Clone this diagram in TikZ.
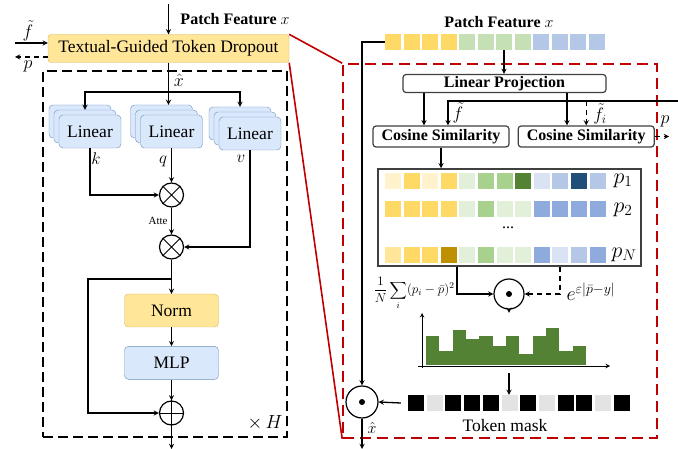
\RequirePackage{fix-cm}
\documentclass[tikz,border=0pt]{standalone}
\usepackage{fontspec}
\setmainfont{Liberation Serif}
\usepackage{amsmath}
\usetikzlibrary{arrows,shapes,positioning,calc}
\definecolor{orangefill}{HTML}{FFE699}
\definecolor{orangeline}{HTML}{D6B656}
\definecolor{bluefill}{HTML}{DAE8FC}
\definecolor{blueline}{HTML}{6C8EBF}
\definecolor{redline}{HTML}{C00000}
\definecolor{boxgray}{HTML}{404040}
\definecolor{ylA}{HTML}{FFF2CC}
\definecolor{ylB}{HTML}{FFD966}
\definecolor{ylC}{HTML}{FFE699}
\definecolor{ylD}{HTML}{BF9000}
\definecolor{grA}{HTML}{E2F0D9}
\definecolor{grB}{HTML}{A9D18E}
\definecolor{grC}{HTML}{C5E0B4}
\definecolor{grD}{HTML}{548235}
\definecolor{blA}{HTML}{DAE3F3}
\definecolor{blB}{HTML}{B4C7E7}
\definecolor{blC}{HTML}{8FAADC}
\definecolor{blD}{HTML}{1F4E79}
\definecolor{mkA}{HTML}{E3E3E3}
\definecolor{mkB}{HTML}{000000}
\tikzset{
	tgtdbox/.style={
		rectangle,
		rounded corners=3pt,
		draw=orangeline,
		fill=orangefill,
		minimum width=241pt,
		minimum height=28pt,
		font=\fontsize{17.5}{20}\selectfont
	},
	linbox/.style={
		rectangle,
		rounded corners=4pt,
		draw=blueline,
		fill=bluefill,
		minimum width=62pt,
		minimum height=33pt,
		font=\fontsize{17.5}{20}\selectfont
	},
	normbox/.style={
		rectangle,
		rounded corners=4pt,
		draw=orangeline,
		fill=orangefill,
		minimum width=94pt,
		minimum height=33pt,
		font=\fontsize{17.5}{20}\selectfont
	},
	mlpbox/.style={
		normbox,
		draw=blueline,
		fill=bluefill
	},
	opnode/.style={
		circle,
		draw=black,
		line width=1.2pt,
		fill=white,
		inner sep=0pt
	},
	graybox/.style={
		rectangle,
		rounded corners=3pt,
		draw=boxgray,
		line width=1.2pt,
		fill=white,
		inner sep=0pt,
		font=\bfseries\fontsize{16}{18}\selectfont
	},
	tok/.style={
		rectangle,
		minimum size=16pt,
		inner sep=0pt
	},
	mathlab/.style={
		inner sep=1pt,
		font=\fontsize{18}{20}\selectfont
	},
	arrow/.style={
		draw=black,
		line width=1.3pt,
		->,
		>=stealth
	},
	dasharrow/.style={
		arrow,
		dash pattern=on 5pt off 4pt
	},
	encbox/.style={
		draw=black,
		line width=1.6pt,
		dash pattern=on 10pt off 5pt
	},
	zoombox/.style={
		draw=redline,
		line width=1.6pt,
		dash pattern=on 11pt off 6pt
	},
	zoomline/.style={
		draw=redline,
		line width=1.6pt
	},
}

\begin{document}
\begin{tikzpicture}[x=1pt,y=-1pt]
	\useasboundingbox (0,0) rectangle (678,449);
	% left: encoder with token dropout
	\node[encbox,minimum width=244pt,minimum height=366pt] (enc) at (165,254) {};
	\node[tgtdbox] (tgtd) at (168.5,48.5) {Textual-Guided Token Dropout};
	\node[font=\bfseries\fontsize{16}{18}\selectfont] (pfl) at (235,19) {Patch Feature $x$};
	\coordinate (pfin) at (168.5,4);
	\coordinate (ftl) at (15,43);
	\coordinate (pl) at (15,57);
	\draw[arrow] (pfin) -- (tgtd.north);
	\draw[arrow] (ftl) -- (tgtd.west |- ftl);
	\node[mathlab] (ftlabl) at (28,31) {$\tilde{f}$};
	\draw[dasharrow] (tgtd.west |- pl) -- (pl);
	\node[mathlab] (plabl) at (28,66) {$p$};

	\node[linbox] (lin1c) at (80,121.5) {};
	\node[linbox] (lin1b) at (85,126.5) {};
	\node[linbox] (lin1) at (90,131.5) {Linear};
	\node[linbox] (lin2c) at (161.5,121.5) {};
	\node[linbox] (lin2b) at (166.5,126.5) {};
	\node[linbox] (lin2) at (171.5,131.5) {Linear};
	\node[linbox] (lin3c) at (240,123.5) {};
	\node[linbox] (lin3b) at (245,128.5) {};
	\node[linbox] (lin3) at (250,133.5) {Linear};

	\coordinate (xhat) at (168.5,92);
	\draw[arrow] (tgtd.south) -- (tgtd.south |- lin2c.north);
	\node[mathlab] (xhlab) at (179,80) {$\hat{x}$};
	\draw[arrow] (xhat) -| (lin1b.north);
	\draw[arrow] (xhat) -| (lin3c.north);

	\node[opnode,minimum size=24pt] (mulk) at (171.5,195) {};
	\node[opnode,minimum size=24pt] (mulv) at (171.5,247) {};
	\draw[line width=1pt] (mulk.north west) -- (mulk.south east) (mulk.north east) -- (mulk.south west);
	\draw[line width=1pt] (mulv.north west) -- (mulv.south east) (mulv.north east) -- (mulv.south west);
	\draw[arrow] (lin1.south) |- (mulk.west);
	\node[mathlab,font=\fontsize{17}{18}\selectfont] (klab) at (96,159) {$k$};
	\draw[arrow] (lin2.south) -- (mulk.north);
	\node[mathlab,font=\fontsize{17}{18}\selectfont] (qlab) at (163,161) {$q$};
	\draw[arrow] (lin3.south) |- (mulv.east);
	\node[mathlab,font=\fontsize{17}{18}\selectfont] (vlab) at (241,159) {$v$};
	\draw[arrow] (mulk) -- node[left,font=\fontsize{11}{12}\selectfont]{Atte} (mulv);

	\node[normbox] (norm) at (171.5,310.5) {Norm};
	\node[mlpbox] (mlp) [below=19pt of norm] {MLP};
	\node[opnode,minimum size=24pt] (addres) at (171.5,413) {};
	\draw[line width=1pt] (addres.north) -- (addres.south) (addres.west) -- (addres.east);
	\coordinate (res) at (171.5,279);
	\coordinate (resl) at (88,279);
	\coordinate (encout) at (171.5,449);
	\draw[line width=1.3pt] (mulv.south) -- (res);
	\draw[arrow] (res) -- (norm.north);
	\draw[arrow] (res) -- (resl) |- (addres.west);
	\draw[arrow] (norm) -- (mlp);
	\draw[arrow] (mlp) -- (addres);
	\draw[arrow] (addres.south) -- (encout);
	\node[font=\fontsize{19}{20}\selectfont] (times) at (265,423) {$\times\,H$};

	% right: zoom of the dropout module
	\node[zoombox,minimum width=314pt,minimum height=374pt] (zoom) at (500,251) {};
	\draw[zoomline] (tgtd.north east) -- (zoom.north west);
	\draw[zoomline] (tgtd.south east) -- (zoom.south west);

	\node[font=\bfseries\fontsize{16}{18}\selectfont] (pfr) at (499,22) {Patch Feature $x$};
	\foreach \c [count=\i from 0] in {ylB,ylB,ylB,ylB,grC,grC,grC,grC,blB,blB,blB,blB}
		\node[tok,fill=\c] (tok\i) at ({393+18.5*\i},42) {};

	\node[graybox,minimum width=203pt,minimum height=18pt] (linproj) at (504.5,83.5) {Linear Projection};
	\node[graybox,minimum width=136pt,minimum height=21pt] (cos1) at (441,136.5) {Cosine Similarity};
	\node[graybox,minimum width=136pt,minimum height=21pt] (cos2) [right=8pt of cos1] {Cosine Similarity};
	\draw[arrow] (tok6.south) -- (tok6.south |- linproj.north);
	\draw[arrow] (linproj.south -| 424,0) -- (cos1.north -| 424,0);
	\draw[arrow] (linproj.south -| 567,0) -- (cos2.north -| 567,0);
	\coordinate (ftin) at (678,101);
	\draw[arrow] (ftin) -| (cos1.north -| 448,0);
	\node[mathlab] (ftlab) at (458,113) {$\tilde{f}$};
	\draw[dasharrow] (cos2.north |- ftin) -- (cos2.north);
	\node[mathlab] (ftilab) at (600,114) {$\tilde{f}_i$};
	\coordinate (pout) at (669,136.5);
	\draw[dasharrow] (cos2.east) -- (pout);
	\node[mathlab] (plabr) at (665,121) {$p$};

	\node[draw=boxgray,line width=1.5pt,minimum width=263pt,minimum height=97pt] (simmat) at (509.5,217.5) {};
	\draw[arrow] (cos1.south) -- (cos1.south |- simmat.north);
	\foreach \c [count=\i from 0] in {ylA,ylB,ylA,ylB,grA,grB,grB,grD,blA,blB,blD,blB}
		\node[tok,fill=\c] (rowa\i) at ({393+18.6*\i},181) {};
	\foreach \c [count=\i from 0] in {ylB,ylB,ylB,ylB,grA,grB,grA,grA,blC,blC,blC,blC}
		\node[tok,fill=\c] (rowb\i) at ({393+18.6*\i},209) {};
	\foreach \c [count=\i from 0] in {ylC,ylB,ylB,ylD,grA,grB,grA,grA,blC,blA,blB,blC}
		\node[tok,fill=\c] (rown\i) at ({393+18.6*\i},255) {};
	\node[font=\fontsize{22}{24}\selectfont] (pa) at (623,181) {$p_1$};
	\node[font=\fontsize{22}{24}\selectfont] (pb) at (623,210) {$p_2$};
	\node[font=\fontsize{22}{24}\selectfont] (pn) at (624,255) {$p_N$};
	\node[font=\fontsize{16}{18}\selectfont] (dots) at (508,228) {...};

	\node[opnode,minimum size=30pt] (mulw) at (509,294) {};
	\fill (mulw) circle (3pt);
	\draw[arrow] (simmat.south -| 457,0) |- (mulw.west);
	\draw[dasharrow] (simmat.south -| 560,0) |- (mulw.east);
	\node[font=\fontsize{13}{15}\selectfont,inner sep=0pt] (varlab) at (414,293) {$\displaystyle\frac{1}{N}\sum_i (p_i-\bar{p})^2$};
	\node[font=\fontsize{20}{22}\selectfont] (explab) at (591,292) {$e^{\varepsilon|\bar{p}-y|}$};

	% histogram of token scores
	\node[minimum width=192pt,minimum height=60pt,inner sep=0pt] (hist) at (514,343) {};
	\foreach \h [count=\i from 0] in {336,351,330,339,336,346,336,354,336,328,351,346}
		\fill[grD] ({426+13.33*\i},\h) rectangle ({426+13.33*(\i+1)},365);
	\draw[arrow,line width=1pt] (418,366) -- (610,366);
	\draw[arrow,line width=1pt] (422,368) -- (422,313);
	\draw[arrow] (mulw.south) -- (mulw.south |- hist.north);

	\foreach \c [count=\i from 0] in {mkB,mkA,mkB,mkB,mkB,mkA,mkB,mkA,mkB,mkB,mkA,mkB}
		\node[tok,fill=\c] (mask\i) at ({416+18.7*\i},403) {};
	\node[font=\fontsize{17.5}{20}\selectfont] (masklab) at (505,426) {Token mask};
	\draw[arrow] (mulw.south |- hist.south) -- (mulw.south |- mask5.north);

	\node[opnode,minimum size=32pt] (mulm) at (362,402) {};
	\fill (mulm) circle (3pt);
	\coordinate (zout) at (362,449);
	\draw[arrow] (tok0.west) -| (mulm.north);
	\draw[arrow] ($(mask0.west)+(-7,0)$) -- (mulm.east);
	\draw[arrow] (mulm.south) -- (zout);
	\node[mathlab,font=\fontsize{16}{18}\selectfont] (xhlabr) at (372,428) {$\hat{x}$};
\end{tikzpicture}
\end{document}
